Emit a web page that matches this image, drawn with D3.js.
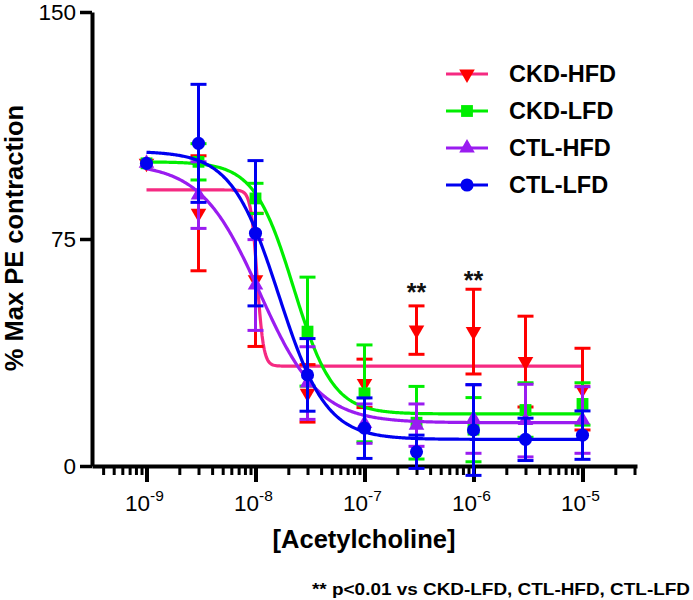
<!DOCTYPE html>
<html>
<head>
<meta charset="utf-8">
<script src="https://cdn.jsdelivr.net/npm/d3@7/dist/d3.min.js"></script>
<style>
  html, body { margin: 0; padding: 0; background: #fff; }
  svg { display: block; font-family: Arial, "Liberation Sans", sans-serif; }
</style>
</head>
<body>
<svg id="chart" width="693" height="600"></svg>
<script>
// ---------------- DATA ----------------
const concentrations = [1e-9, 3e-9, 1e-8, 3e-8, 1e-7, 3e-7, 1e-6, 3e-6, 1e-5];
const seriesNames = ["CKD-HFD", "CKD-LFD", "CTL-HFD", "CTL-LFD"];

const ckdHfdMean = [100, 83.5, 61.5, 24.0, 27.3, 44.9, 44.4, 34.5, 25.4];
const ckdHfdSem  = [0, 19, 22, 9.5, 8, 8, 14, 15, 13.5];
const ckdLfdMean = [100, 100.5, 88.4, 44.4, 24.0, 14.3, 12.0, 18.5, 20.5];
const ckdLfdSem  = [0, 6, 5, 18, 16, 12, 10.6, 9, 7];
const ctlHfdMean = [100, 89.5, 59.8, 27.4, 14.0, 13.5, 15.5, 15.0, 15.2];
const ctlHfdSem  = [0, 11, 15, 12, 6.5, 7, 11.3, 12, 11];
const ctlLfdMean = [100, 106.6, 76.9, 30.1, 12.5, 4.7, 11.9, 8.8, 10.2];
const ctlLfdSem  = [0, 19.5, 24, 12, 10, 5.5, 15, 7, 8];

// fitted sigmoid (log agonist vs response) parameters
const fitTop      = [91.2, 100.5, 100, 104];
const fitBottom   = [33.0, 17.2, 14.3, 8.8];
const fitLogEC50  = [-7.985, -7.65, -7.96, -7.786];
const fitHill     = [15, 2.4, 1.6, 2.0];

const yTickValues = [0, 75, 150];
const xMajorTicks = [1e-9, 1e-8, 1e-7, 1e-6, 1e-5];
const xTickExponents = ["-9", "-8", "-7", "-6", "-5"];

const sigConcentrations = [3e-7, 1e-6];
const sigLevels = [59.2, 63.3];

const xTitle = "[Acetylcholine]";
const yTitle = "% Max PE contraction";
const footnote = "** p<0.01 vs CKD-LFD, CTL-HFD, CTL-LFD";

// ---------------- STYLE ----------------
const curveColors  = ["#f52a82", "#00ee00", "#9a1cf0", "#0000f0"];
const markerColors = ["#ff0000", "#00ee00", "#9a1cf0", "#0000f0"];
const errColors    = ["#ff0000", "#00ee00", "#9a1cf0", "#0000f0"];
const symbols = [d3.symbolTriangle, d3.symbolSquare, d3.symbolTriangle, d3.symbolCircle];
const symbolSizes = [105, 140, 105, 135];
const symbolRot = [180, 0, 0, 0];

const means = [ckdHfdMean, ckdLfdMean, ctlHfdMean, ctlLfdMean];
const sems  = [ckdHfdSem, ckdLfdSem, ctlHfdSem, ctlLfdSem];

// ---------------- SCALES ----------------
const svg = d3.select("#chart");
svg.append("rect").attr("width", 693).attr("height", 600).attr("fill", "#fff");

const x = d3.scaleLog().domain([Math.pow(10, -9.5), Math.pow(10, -4.5)]).range([92, 637]);
const y = d3.scaleLinear().domain([0, 150]).range([466, 12]);

// ---------------- AXES ----------------
const yAxis = svg.append("g").attr("transform", "translate(92,0)")
  .call(d3.axisLeft(y).tickValues(yTickValues).tickSize(12).tickSizeOuter(0).tickPadding(4));
yAxis.select(".domain").attr("stroke", "#000").attr("stroke-width", 4);
yAxis.selectAll(".tick line").attr("stroke", "#000").attr("stroke-width", 3.5);
yAxis.selectAll(".tick text").attr("fill", "#000").attr("font-size", 22.5)
  .attr("font-family", "Arial, 'Liberation Sans', sans-serif");

// minor ticks 2..9 per decade
const minorTicks = [];
for (let e = -10; e <= -5; e++) {
  for (let m = 2; m <= 9; m++) {
    const v = m * Math.pow(10, e);
    if (v > x.domain()[0] && v < x.domain()[1]) minorTicks.push(v);
  }
}
const xMinor = svg.append("g").attr("transform", "translate(0,466)")
  .call(d3.axisBottom(x).tickValues(minorTicks).tickSize(9).tickSizeOuter(0).tickFormat(""));
xMinor.select(".domain").attr("stroke", "#000").attr("stroke-width", 4);
xMinor.selectAll(".tick line").attr("stroke", "#000").attr("stroke-width", 3);

const xMajor = svg.append("g").attr("transform", "translate(0,466)")
  .call(d3.axisBottom(x).tickValues(xMajorTicks).tickSize(16).tickSizeOuter(0).tickFormat(""));
xMajor.select(".domain").remove();
xMajor.selectAll(".tick line").attr("stroke", "#000").attr("stroke-width", 4);

// x tick labels 10^n
const xl = svg.append("g");
xMajorTicks.forEach((v, i) => {
  const t = xl.append("text")
    .attr("x", x(v) - 2).attr("y", 510.5)
    .attr("text-anchor", "middle")
    .attr("font-size", 22.5).attr("fill", "#000");
  t.append("tspan").text("10");
  t.append("tspan").attr("dy", -10).attr("font-size", 15.5).text(xTickExponents[i]);
});

// axis titles
svg.append("text").attr("x", 364).attr("y", 548)
  .attr("text-anchor", "middle").attr("font-size", 25.5).attr("font-weight", "bold")
  .attr("fill", "#000").text(xTitle);
svg.append("text").attr("transform", "translate(23,238) rotate(-90)")
  .attr("text-anchor", "middle").attr("font-size", 25.5).attr("font-weight", "bold")
  .attr("fill", "#000").text(yTitle);

// ---------------- DATA MARKS ----------------
const plot = svg.append("g");
const curveX = d3.range(0, 401).map(i => Math.pow(10, -9 + i * 4 / 400));
const line = d3.line().x(d => x(d[0])).y(d => y(d[1]));

seriesNames.forEach((name, s) => {
  const g = plot.append("g");
  // fitted curve
  const pts = curveX.map(c => [c, fitBottom[s] + (fitTop[s] - fitBottom[s]) /
    (1 + Math.pow(10, (Math.log10(c) - fitLogEC50[s]) * fitHill[s]))]);
  g.append("path").datum(pts).attr("d", line)
    .attr("fill", "none").attr("stroke", curveColors[s]).attr("stroke-width", 3.2);

  // error bars
  concentrations.forEach((c, i) => {
    const m = means[s][i], e = sems[s][i];
    if (!e) return;
    const cx = x(c), y1 = y(m - e), y2 = y(m + e);
    g.append("line").attr("x1", cx).attr("x2", cx).attr("y1", y1).attr("y2", y2)
      .attr("stroke", errColors[s]).attr("stroke-width", 3);
    [y1, y2].forEach(yy => g.append("line")
      .attr("x1", cx - 8).attr("x2", cx + 8).attr("y1", yy).attr("y2", yy)
      .attr("stroke", errColors[s]).attr("stroke-width", 3));
  });

  // markers
  concentrations.forEach((c, i) => {
    g.append("path")
      .attr("d", d3.symbol().type(symbols[s]).size(symbolSizes[s])())
      .attr("transform", `translate(${x(c)},${y(means[s][i])}) rotate(${symbolRot[s]})`)
      .attr("fill", markerColors[s]);
  });
});

// significance asterisks
sigConcentrations.forEach((c, i) => {
  svg.append("text").attr("x", x(c)).attr("y", y(sigLevels[i]) + 14.4)
    .attr("text-anchor", "middle").attr("font-size", 25).attr("font-weight", "bold")
    .attr("fill", "#111").text("**");
});

// ---------------- LEGEND ----------------
const legend = svg.append("g");
seriesNames.forEach((name, s) => {
  const ly = 74 + s * 37;
  legend.append("line").attr("x1", 446).attr("x2", 488).attr("y1", ly).attr("y2", ly)
    .attr("stroke", curveColors[s]).attr("stroke-width", 3.2);
  legend.append("path")
    .attr("d", d3.symbol().type(symbols[s]).size(symbolSizes[s])())
    .attr("transform", `translate(467,${ly}) rotate(${symbolRot[s]})`)
    .attr("fill", markerColors[s]);
  legend.append("text").attr("x", 509).attr("y", ly).attr("dy", "0.36em")
    .attr("font-size", 23.5).attr("font-weight", "bold").attr("fill", "#000").text(name);
});

// footnote
svg.append("text").attr("x", 690).attr("y", 595).attr("text-anchor", "end")
  .attr("font-size", 17).attr("font-weight", "bold").attr("fill", "#000")
  .attr("textLength", 378).attr("lengthAdjust", "spacingAndGlyphs")
  .text(footnote);
</script>
</body>
</html>
